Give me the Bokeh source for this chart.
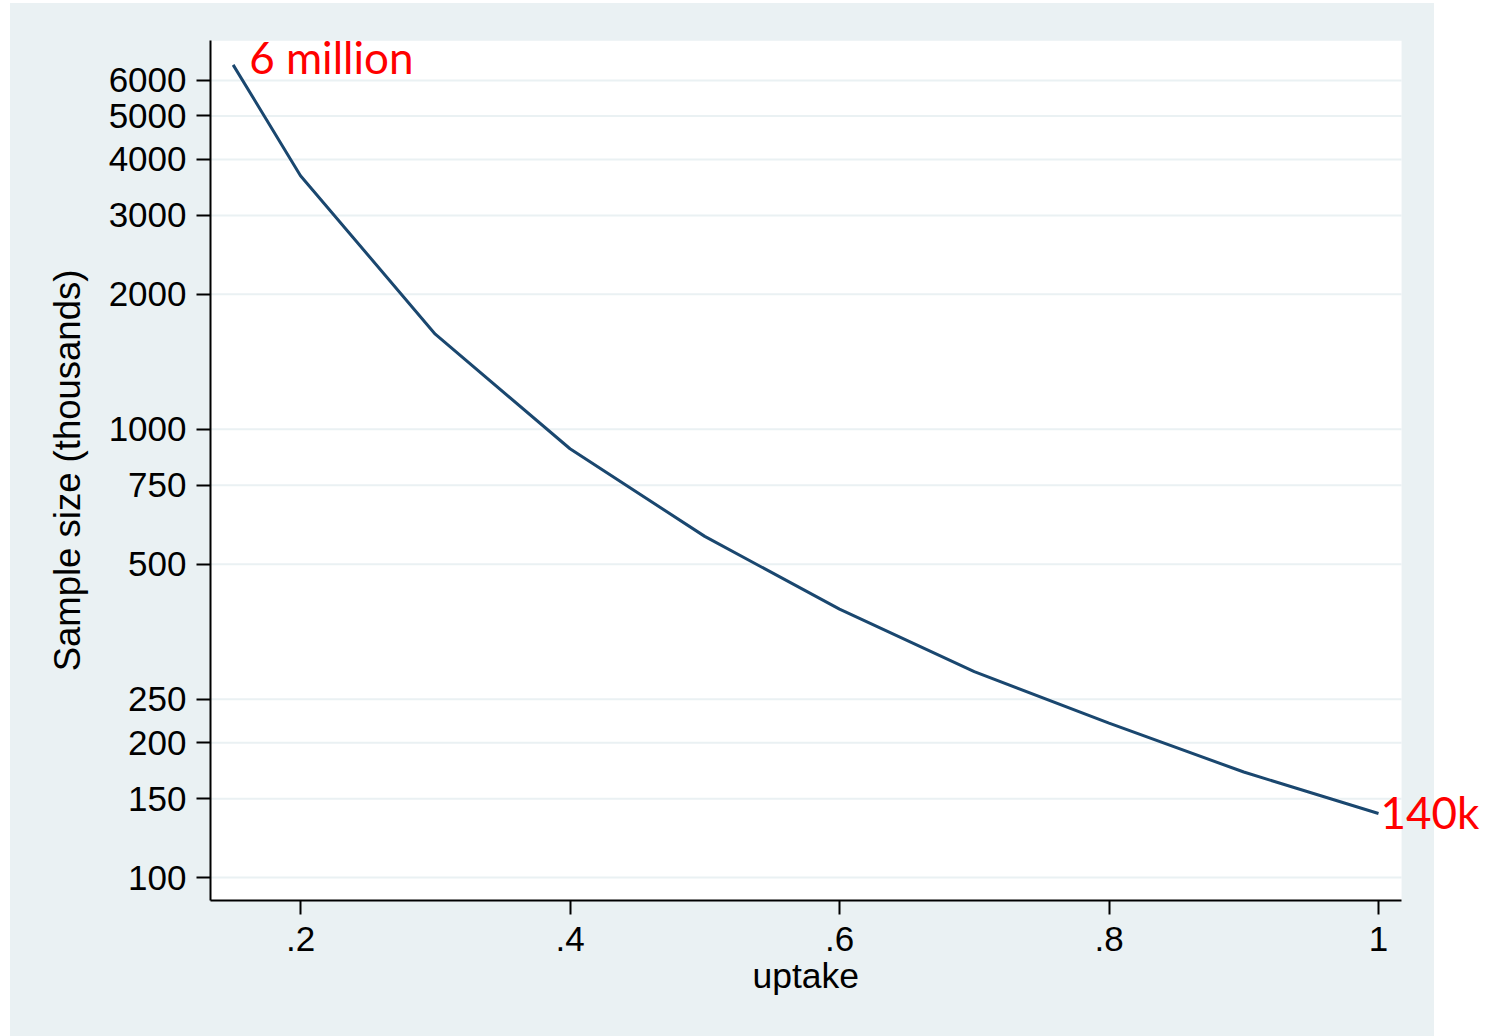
from bokeh.plotting import figure
from bokeh.models import (Range1d, FixedTicker, NumeralTickFormatter, CustomJSTickFormatter,
                          Label, BoxAnnotation, Title)
from bokeh.embed import file_html
from bokeh.resources import INLINE

# ---- data ----
uptake = [0.15, 0.2, 0.3, 0.4, 0.5, 0.6, 0.7, 0.8, 0.9, 1.0]
sample_thousands = [6500, 3680, 1630, 905, 577, 397, 288, 221, 172, 139]
y_ticks = [100, 150, 200, 250, 500, 750, 1000, 2000, 3000, 4000, 5000, 6000]
x_ticks = [0.2, 0.4, 0.6, 0.8, 1.0]
label_start = "6 million"
label_end = "140k"
x_title = "uptake"
y_title = "Sample size (thousands)"

BG = "#EAF1F3"
TICK_FONT = "Liberation Sans"

X_MIN, X_MAX = 0.1332, 1.0171       # visible plot region
X_FRAME_MAX = 1.0831                 # frame continues (transparent) so the end label is not clipped

p = figure(
    width=1490, height=1036,
    x_range=Range1d(X_MIN, X_FRAME_MAX),
    y_range=Range1d(88.9, 7368),
    y_axis_type="log",
    output_backend="svg",
    toolbar_location=None,
    min_border_left=210, min_border_right=0,
    min_border_top=40, min_border_bottom=136,
)
p.border_fill_color = None
p.background_fill_color = None
p.outline_line_color = None
p.styles = {
    "background-color": "#ffffff",
    "background-image": "linear-gradient(%s, %s)" % (BG, BG),
    "background-repeat": "no-repeat",
    "background-position": "10px 3px",
    "background-size": "1424px 1033px",
}

# white plot area
p.add_layout(BoxAnnotation(left=X_MIN, right=X_MAX, fill_color="#FFFFFF", fill_alpha=1.0,
                           line_color=None, level="underlay"))

# horizontal grid lines at the y ticks
p.segment(x0=[X_MIN] * len(y_ticks), x1=[X_MAX] * len(y_ticks), y0=y_ticks, y1=y_ticks,
          line_color=BG, line_width=2)

# line
p.line(uptake, sample_thousands, line_color="#1A476F", line_width=3)

# axes
for ax in (p.xaxis[0], p.yaxis[0]):
    ax.axis_line_color = "black"
    ax.axis_line_width = 2
    ax.major_tick_line_color = "black"
    ax.major_tick_line_width = 2
    ax.major_tick_in = 0
    ax.major_tick_out = 14
    ax.minor_tick_line_color = None
    ax.major_label_text_font = TICK_FONT
    ax.major_label_text_font_size = "35px"
    ax.major_label_text_color = "black"
    ax.axis_label_text_font = TICK_FONT
    ax.axis_label_text_font_size = "36.5px"
    ax.axis_label_text_font_style = "normal"
    ax.axis_label_text_color = "black"

p.xaxis.ticker = FixedTicker(ticks=x_ticks)
p.xaxis.formatter = CustomJSTickFormatter(
    code="return tick.toFixed(1).replace(/^0/, '').replace(/\\.0$/, '');")
p.xaxis.bounds = (X_MIN, X_MAX)
p.xaxis.major_label_standoff = 12

p.yaxis.ticker = FixedTicker(ticks=y_ticks, minor_ticks=[])
p.yaxis.formatter = NumeralTickFormatter(format="0")
p.yaxis.axis_label = y_title
p.yaxis.major_label_standoff = 10
p.yaxis.axis_label_standoff = 18

# x title centred on the visible plot region (not the whole frame)
p.add_layout(Title(text=x_title, align="left", offset=542, standoff=0,
                   text_font=TICK_FONT, text_font_size="35.5px", text_font_style="normal",
                   text_color="black"), "below")

# grids handled manually
p.xgrid.grid_line_color = None
p.ygrid.grid_line_color = None

# annotations
p.add_layout(Label(x=uptake[0], y=sample_thousands[0], text=label_start,
                   x_offset=16, y_offset=8, text_baseline="middle",
                   text_color="#FF0000", text_font="Lato", text_font_size="44px"))
p.add_layout(Label(x=uptake[-1], y=sample_thousands[-1], text=label_end,
                   x_offset=2, y_offset=1, text_baseline="middle",
                   text_color="#FF0000", text_font="Lato", text_font_size="44px"))

open("out.html", "w").write(file_html(p, INLINE))
